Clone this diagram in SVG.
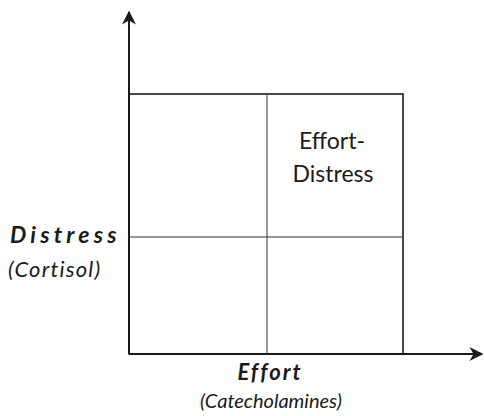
<svg xmlns="http://www.w3.org/2000/svg" width="484" height="416" viewBox="0 0 484 416">
<style>
.ax{stroke:#1a1a1a;stroke-width:2;fill:none}
.bx{stroke:#1a1a1a;stroke-width:1.6;fill:none}
.gr{stroke:#333;stroke-width:1;fill:none}
.lb{font-family:Lato,"Open Sans",sans-serif;fill:#1a1a1a}
</style>
<defs>
<marker id="ah" viewBox="0 0 10 10" refX="9" refY="5" markerWidth="14" markerHeight="14" markerUnits="userSpaceOnUse" orient="auto">
<path d="M0,0 L10,5 L0,10 L3,5 Z" fill="#1a1a1a"/>
</marker>
</defs>
<g id="connectors">
<line class="ax" x1="129" y1="354" x2="129" y2="12" marker-end="url(#ah)"/>
<line class="ax" x1="129" y1="354" x2="482" y2="354" marker-end="url(#ah)"/>
</g>
<g id="grid">
<rect class="bx" x="129" y="94" width="274" height="260"/>
<line class="gr" x1="267" y1="94" x2="267" y2="354"/>
<line class="gr" x1="129" y1="237" x2="403" y2="237"/>
</g>
<g id="effort-distress">
<text class="lb" x="332" y="149" font-size="23" text-anchor="middle">Effort-</text>
<text class="lb" x="333" y="182" font-size="23" text-anchor="middle">Distress</text>
</g>
<g id="y-label">
<text class="lb" x="10" y="243" font-size="23" font-weight="bold" font-style="italic" letter-spacing="4.2">Distress</text>
<text class="lb" x="8" y="277" font-size="22" font-style="italic" letter-spacing="1.2">(Cortisol)</text>
</g>
<g id="x-label">
<text class="lb" x="270" y="380" font-size="22" font-weight="bold" font-style="italic" text-anchor="middle" letter-spacing="2">Effort</text>
<text class="lb" x="271" y="408" font-size="20" font-style="italic" text-anchor="middle">(Catecholamines)</text>
</g>
</svg>
